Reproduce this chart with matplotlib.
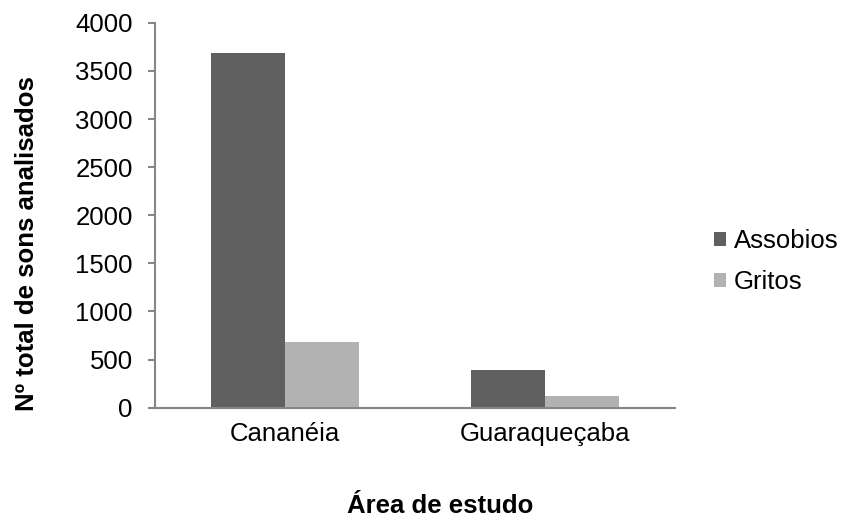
import matplotlib.pyplot as plt
import numpy as np

plt.rcParams['font.family'] = ['Liberation Sans', 'DejaVu Sans']

areas = ['Cananéia', 'Guaraqueçaba']
assobios = [3690, 390]
gritos = [684, 122]

AXIS_GRAY = '#868686'
FS = 18.5

fig = plt.figure(figsize=(8.47, 5.17), dpi=100)
ax = fig.add_axes([0.183, 0.2114, 0.614, 0.7445])

x = np.arange(len(areas))
w = 0.285
ax.bar(x - w / 2, assobios, w, color='#606060', label='Assobios', zorder=2)
ax.bar(x + w / 2, gritos, w, color='#b2b2b2', label='Gritos', zorder=2)

ax.set_xlim(-0.5, 1.5)
ax.set_ylim(0, 4000)
ax.set_yticks(np.arange(0, 4001, 500))
ax.set_xticks(x)
ax.set_xticklabels(areas)

for side in ['top', 'right']:
    ax.spines[side].set_visible(False)
for side in ['left', 'bottom']:
    ax.spines[side].set_color(AXIS_GRAY)
    ax.spines[side].set_linewidth(1.5)
ax.tick_params(axis='y', colors=AXIS_GRAY, labelcolor='black', labelsize=FS,
               length=5, width=1.5, pad=11)
ax.tick_params(axis='x', length=0, labelsize=FS, pad=10)

# axis titles placed in figure coordinates
fig.text(27 / 847, 1 - 243.5 / 517, 'Nº total de sons analisados', rotation=90,
         ha='center', va='center', fontsize=FS, fontweight='bold')
fig.text(347 / 847, 1 - 513 / 517, 'Área de estudo',
         ha='left', va='baseline', fontsize=FS, fontweight='bold')

leg = ax.legend(loc='center left', bbox_to_anchor=(714 / 847, 1 - 261.5 / 517),
                bbox_transform=fig.transFigure, frameon=False,
                fontsize=FS, handlelength=0.47, handleheight=0.47,
                handletextpad=0.3, labelspacing=0.67, borderpad=0, borderaxespad=0)

fig.savefig('out.png', dpi=100, facecolor='white')
